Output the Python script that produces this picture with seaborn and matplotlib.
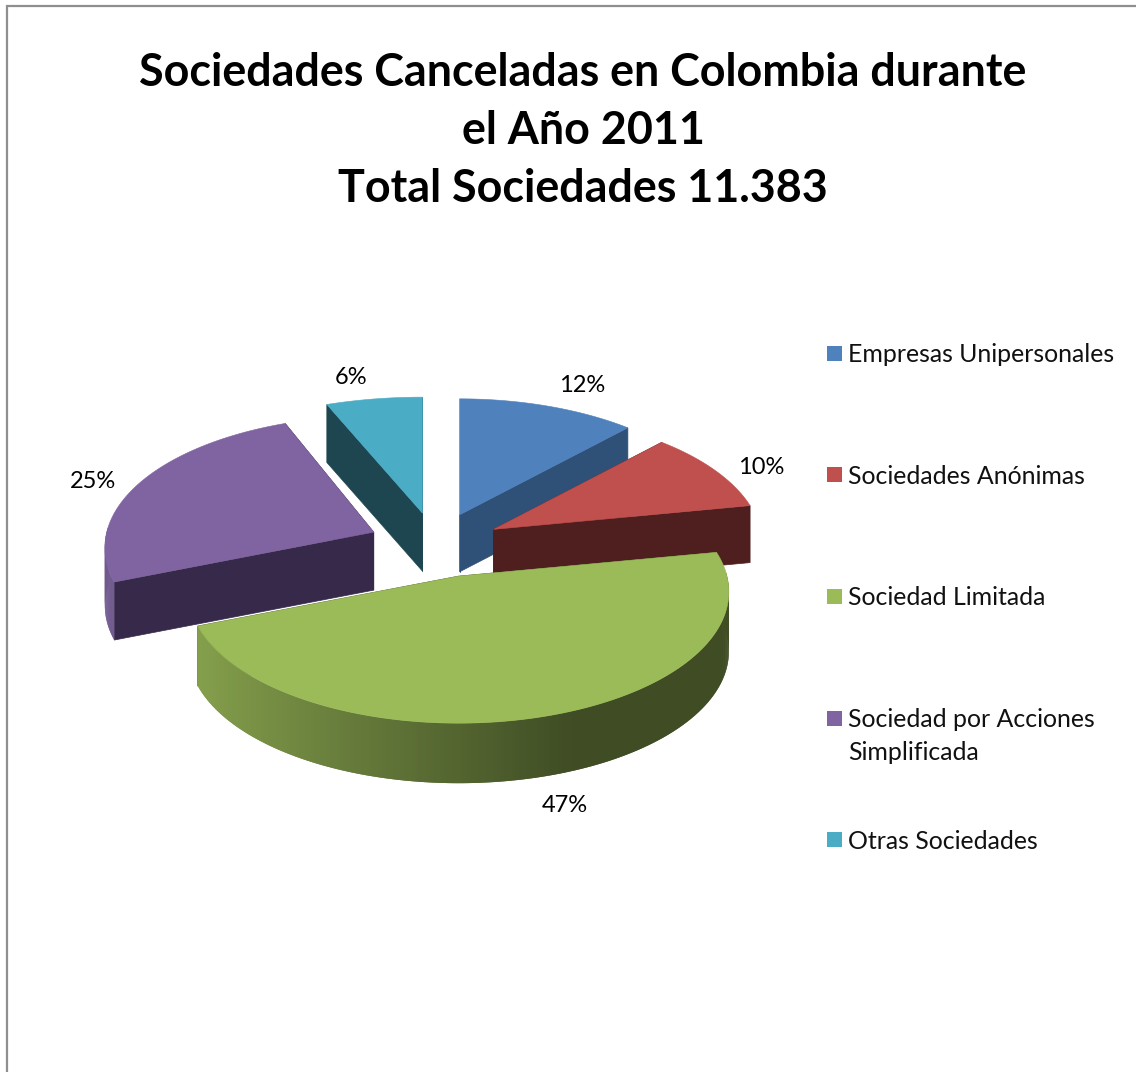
import numpy as np
import matplotlib
matplotlib.use("Agg")
import matplotlib.pyplot as plt
from matplotlib.collections import PolyCollection
from matplotlib.colors import to_rgb
from matplotlib.patches import Polygon, Rectangle
import seaborn as sns

# Chart data
categories = ["Empresas Unipersonales", "Sociedades Anónimas", "Sociedad Limitada",
              "Sociedad por Acciones\nSimplificada", "Otras Sociedades"]
percentages = [12, 10, 47, 25, 6]
title_lines = ["Sociedades Canceladas en Colombia durante", "el Año 2011", "Total Sociedades 11.383"]

# Colours of the top surfaces and the cut faces
top_colors = sns.color_palette(["#4f81bd", "#c0504d", "#9bbb59", "#8064a2", "#4bacc6"])
face_colors = ["#2f5077", "#4f1f1f", "#3f4d20", "#37294a", "#1d4650"]

# Projection of the tilted disc on the canvas
CENTER = (435.0, 545.0)
RX, RY, PERSP = 267.0, 129.7, 0.118
EXPLODE = 0.25
SLICE_DEPTH = [57, 57, 60, 58, 58]
SLICE_XSCALE = [1.0, 1.0, 1.005, 1.0, 1.08]
SLICE_XSHIFT = [0, 0, 5, 0, 0]
LABEL_POS = [(582, 386), (761, 468), (565, 806), (93, 482), (351, 378)]
DRAW_ORDER = [0, 4, 3, 1, 2]

sns.set_theme(style="white")
plt.rcParams["font.family"] = ["Lato", "DejaVu Sans"]

fig = plt.figure(figsize=(11.36, 10.72), dpi=100, facecolor="white")
ax = fig.add_axes([0, 0, 1, 1])
ax.set_xlim(0, 1136)
ax.set_ylim(1072, 0)
ax.axis("off")

# Chart-area frame, visible on the top and left sides
ax.plot([7, 7, 1136], [1072, 5.5, 5.5], color="#8f8f8f", lw=1.6, solid_joinstyle="miter")


def project(apex, theta, xscale):
    """Map angles (clockwise from north) on a slice rim to canvas points."""
    u, v = np.sin(theta), np.cos(theta)
    d = 1 + PERSP * v
    return np.column_stack([apex[0] + xscale * RX * u / d, apex[1] - RY * v / d])


shares = np.array(percentages, dtype=float)
bounds = np.concatenate([[0], np.cumsum(shares / shares.sum())]) * 2 * np.pi

for i in DRAW_ORDER:
    t0, t1 = bounds[i], bounds[i + 1]
    mid = (t0 + t1) / 2
    apex = (CENTER[0] + EXPLODE * RX * np.sin(mid) + SLICE_XSHIFT[i],
            CENTER[1] - EXPLODE * RY * np.cos(mid))
    drop = np.array([0, SLICE_DEPTH[i]])
    theta = np.linspace(t0, t1, 240)
    rim = project(apex, theta, SLICE_XSCALE[i])
    ap = np.array(apex)
    layer = 2 + DRAW_ORDER.index(i)

    # Radial cut faces
    for end in (rim[0], rim[-1]):
        ax.add_patch(Polygon([ap, end, end + drop, ap + drop], closed=True,
                             fc=face_colors[i], ec=face_colors[i], lw=0.5, zorder=layer))

    # Outer rim, shaded by its horizontal position; each band overlaps the next to hide seams
    front = np.cos(theta) < 0.05
    quads, shades = [], []
    base = np.array(to_rgb(top_colors[i]))
    for k in np.where(front[:-2] & front[2:])[0]:
        quads.append([rim[k], rim[k + 2], rim[k + 2] + drop, rim[k] + drop])
        s = np.clip((np.sin(theta[k]) + 1) / 1.38, 0, 1)
        shades.append(base * (0.88 - 0.47 * s))
    if quads:
        ax.add_collection(PolyCollection(quads, facecolors=shades, edgecolors="none", linewidths=0,
                                         zorder=layer))

    # Top surface
    ax.add_patch(Polygon(np.vstack([ap, rim]), closed=True, fc=top_colors[i], ec=top_colors[i],
                         lw=0.4, zorder=layer + 0.5))

    ax.text(*LABEL_POS[i], f"{percentages[i]}%", ha="center", va="center",
            fontsize=17, color="black", zorder=20)

# Title
for line, y in zip(title_lines, (73, 131, 189)):
    ax.text(583, y, line, ha="center", va="center", fontsize=32.3, fontweight="bold", color="black")

# Legend entries with an even vertical step
for i, (label, color) in enumerate(zip(categories, top_colors)):
    y = 353 + 121.7 * i
    ax.add_patch(Rectangle((827, y - 7.5), 15, 15, fc=color, ec="none"))
    ax.text(848, y - 10, label, ha="left", va="top", fontsize=17.9, color="#111111", linespacing=1.5)

fig.savefig("out.png", dpi=100, facecolor="white")
